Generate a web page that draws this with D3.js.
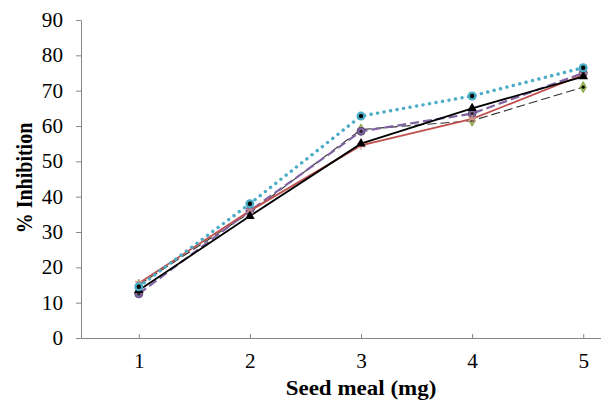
<!DOCTYPE html>
<html>
<head>
<meta charset="utf-8">
<script src="https://cdnjs.cloudflare.com/ajax/libs/d3/7.8.5/d3.min.js"></script>
<style>
  body { margin: 0; background: #fff; }
  text { font-family: "Liberation Serif", "Times New Roman", serif; }
</style>
</head>
<body>
<div id="chart"></div>
<script>
// data
const doses = [1, 2, 3, 4, 5];
const yTicks = [0, 10, 20, 30, 40, 50, 60, 70, 80, 90];
const blackSeries  = [13.5, 34.5, 55.0, 65.0, 74.0];
const redSeries    = [15.5, 36.0, 54.5, 62.0, 74.5];
const tealSeries   = [14.5, 38.0, 62.8, 68.5, 76.5];
const purpleSeries = [12.5, 36.0, 58.5, 63.5, 75.0];
const greySeries   = [15.0, 35.5, 59.0, 61.5, 71.0];

const W = 601, H = 400;
const stretch = 1.15; // titles in the picture are a bit wider than normal
const tickStretch = 1.06;
const svg = d3.select("#chart").append("svg")
  .attr("width", W).attr("height", H);

const x = d3.scaleLinear().domain([0.48, 5.16]).range([81, 601]);
const y = d3.scaleLinear().domain([0, 90]).range([338, 20]);

// axes
const yAxis = svg.append("g")
  .attr("transform", "translate(81,0)")
  .call(d3.axisLeft(y).tickValues(yTicks).tickSize(5).tickPadding(12).tickSizeOuter(0));
yAxis.select(".domain").attr("stroke", "#868686");
yAxis.selectAll(".tick line").attr("stroke", "#868686");
yAxis.selectAll("text").attr("font-size", 20).attr("fill", "#000")
  .style("font-family", "Liberation Serif")
  .attr("transform", `scale(${tickStretch},1)`);

const xAxis = svg.append("g")
  .attr("transform", "translate(0,338)")
  .call(d3.axisBottom(x).tickValues(doses).tickSize(-4).tickPadding(16).tickSizeOuter(0)
    .tickFormat(d3.format("d")));
xAxis.select(".domain").attr("stroke", "#868686");
xAxis.selectAll(".tick line").attr("stroke", "#868686");
xAxis.selectAll("text").attr("font-size", 20).attr("fill", "#000")
  .style("font-family", "Liberation Serif")
  .attr("transform", `scale(${tickStretch},1)`);

// titles
svg.append("text")
  .attr("transform", `translate(361,395) scale(${stretch},1)`)
  .attr("text-anchor", "middle")
  .attr("font-size", 20).attr("font-weight", "bold")
  .text("Seed meal (mg)");

svg.append("text")
  .attr("transform", `translate(32,178) scale(${stretch},1) rotate(-90)`)
  .attr("text-anchor", "middle")
  .attr("font-size", 20).attr("font-weight", "bold")
  .text("% Inhibition");

const line = d3.line().x((d, i) => x(doses[i])).y(d => y(d));

function drawLine(vals, color, width, dash, cap) {
  svg.append("path")
    .datum(vals)
    .attr("d", line)
    .attr("fill", "none")
    .attr("stroke", color)
    .attr("stroke-width", width)
    .attr("stroke-dasharray", dash || null)
    .attr("stroke-linecap", cap || "butt");
}

drawLine(greySeries, "#303030", 1.1, "9,4");
drawLine(purpleSeries, "#8064a2", 2.2, "9,4");
drawLine(redSeries, "#c0504d", 1.8);
drawLine(blackSeries, "#000", 1.8);
drawLine(tealSeries, "#4bacc6", 3.4, "0.1,6.5", "round");

// markers
svg.selectAll(".grey-m").data(greySeries).enter().append("path")
  .attr("d", d3.symbol(d3.symbolDiamond, 36))
  .attr("transform", (d, i) => `translate(${x(doses[i])},${y(d)})`)
  .attr("fill", "#9bbb59").attr("stroke", "#7a9a3a").attr("stroke-width", 0.8);
svg.selectAll(".grey-c").data(greySeries).enter().append("circle")
  .attr("cx", (d, i) => x(doses[i])).attr("cy", d => y(d))
  .attr("r", 1.6).attr("fill", "#000");

svg.selectAll(".purple-m").data(purpleSeries).enter().append("circle")
  .attr("cx", (d, i) => x(doses[i])).attr("cy", d => y(d))
  .attr("r", 4).attr("fill", "#8064a2").attr("stroke", "#5f4a7a").attr("stroke-width", 1);
svg.selectAll(".purple-c").data(purpleSeries).enter().append("circle")
  .attr("cx", (d, i) => x(doses[i])).attr("cy", d => y(d))
  .attr("r", 1.6).attr("fill", "#222");

svg.selectAll(".red-m").data(redSeries).enter().append("path")
  .attr("d", d3.symbol(d3.symbolAsterisk, 50))
  .attr("transform", (d, i) => `translate(${x(doses[i])},${y(d)})`)
  .attr("fill", "none").attr("stroke", "#d9938f").attr("stroke-width", 1.2);

svg.selectAll(".black-m").data(blackSeries).enter().append("path")
  .attr("d", d3.symbol(d3.symbolTriangle, 40))
  .attr("transform", (d, i) => `translate(${x(doses[i])},${y(d)})`)
  .attr("fill", "#000");

svg.selectAll(".teal-m").data(tealSeries).enter().append("circle")
  .attr("cx", (d, i) => x(doses[i])).attr("cy", d => y(d))
  .attr("r", 4.5).attr("fill", "#4bacc6");
svg.selectAll(".teal-c").data(tealSeries).enter().append("circle")
  .attr("cx", (d, i) => x(doses[i])).attr("cy", d => y(d))
  .attr("r", 2.2).attr("fill", "#000");
</script>
</body>
</html>
